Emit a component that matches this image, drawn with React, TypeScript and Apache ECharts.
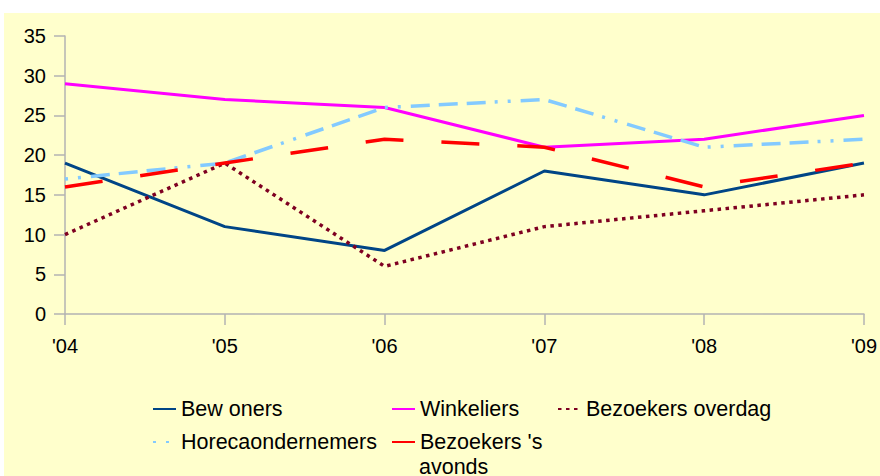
import React, { useEffect, useRef } from "react";
import * as echarts from "echarts";

const categories = ["'04", "'05", "'06", "'07", "'08", "'09"];
const bewoners = [19, 11, 8, 18, 15, 19];
const winkeliers = [29, 27, 26, 21, 22, 25];
const bezoekersOverdag = [10, 19, 6, 11, 13, 15];
const horeca = [17, 19, 26, 27, 21, 22];
const bezoekersAvonds = [16, 19, 22, 21, 16, 19];
const yTicks = { min: 0, max: 35, interval: 5 };

const FONT = "Liberation Sans, Arial, sans-serif";
const AXIS_COLOR = "#b3b3b3";
const LEGEND_FONT = 21.5;

export default function App() {
  const ref = useRef<HTMLDivElement>(null);

  useEffect(() => {
    if (!ref.current) return;
    const chart = echarts.init(ref.current, null, { renderer: "svg" });
    const legendBase = {
      orient: "horizontal",
      padding: 0,
      itemWidth: 23,
      itemHeight: 20,
      itemStyle: { opacity: 0 },
      textStyle: { fontSize: LEGEND_FONT, fontFamily: FONT, color: "#000", lineHeight: 20 },
      selectedMode: false,
    };
    const option = {
      animation: false,
      backgroundColor: "#ffffcc",
      textStyle: { fontFamily: FONT },
      grid: { left: 61, right: 13, top: 23, bottom: 162, containLabel: false },
      xAxis: {
        type: "category",
        data: categories,
        boundaryGap: false,
        axisLine: { lineStyle: { color: AXIS_COLOR, width: 1.5 } },
        axisTick: { show: true, length: 11, lineStyle: { color: AXIS_COLOR, width: 1.5 } },
        axisLabel: { fontSize: 20, color: "#000", margin: 22, fontFamily: FONT },
        splitLine: { show: false },
      },
      yAxis: {
        type: "value",
        min: yTicks.min,
        max: yTicks.max,
        interval: yTicks.interval,
        axisLine: { show: true, lineStyle: { color: AXIS_COLOR, width: 1.5 } },
        axisTick: { show: true, length: 11, lineStyle: { color: AXIS_COLOR, width: 1.5 } },
        axisLabel: { fontSize: 20, color: "#000", margin: 19, fontFamily: FONT },
        splitLine: { show: false },
      },
      legend: [
        { ...legendBase, left: 148, top: 385, data: ["Bewoners"], formatter: () => "Bew oners" },
        { ...legendBase, left: 387, top: 385, data: ["Winkeliers"] },
        { ...legendBase, left: 553, top: 385, data: ["Bezoekers overdag"] },
        { ...legendBase, left: 148, top: 418, data: ["Horecaondernemers"] },
        { ...legendBase, left: 387, top: 418, data: ["Bezoekers 's avonds"], formatter: () => "Bezoekers 's" },
      ],
      graphic: [
        {
          type: "text",
          left: 415,
          top: 443,
          style: { text: "avonds", fontSize: LEGEND_FONT, fontFamily: FONT, fill: "#000" },
        },
      ],
      series: [
        {
          name: "Bewoners",
          type: "line",
          data: bewoners,
          symbol: "none",
          color: "#004586",
          lineStyle: { color: "#004586", width: 3 },
        },
        {
          name: "Winkeliers",
          type: "line",
          data: winkeliers,
          symbol: "none",
          color: "#ff00ff",
          lineStyle: { color: "#ff00ff", width: 3 },
        },
        {
          name: "Bezoekers overdag",
          type: "line",
          data: bezoekersOverdag,
          symbol: "none",
          color: "#7e0021",
          lineStyle: { color: "#7e0021", width: 3.5, type: [3.5, 4.5] },
        },
        {
          name: "Horecaondernemers",
          type: "line",
          data: horeca,
          symbol: "none",
          color: "#83caff",
          lineStyle: { color: "#83caff", width: 3.5, type: [3, 10, 3, 10, 19, 9, 19, 9, 19, 9] },
        },
        {
          name: "Bezoekers 's avonds",
          type: "line",
          data: bezoekersAvonds,
          symbol: "none",
          color: "#ff0000",
          lineStyle: { color: "#ff0000", width: 3.5, type: [38, 38] },
        },
      ],
    };
    chart.setOption(option as any);
    return () => chart.dispose();
  }, []);

  return (
    <div style={{ position: "fixed", left: 0, top: 0, width: 880, height: 476, background: "#ffffff", overflow: "hidden" }}>
      <div ref={ref} style={{ position: "absolute", left: 4, top: 13, width: 876, height: 463 }} />
    </div>
  );
}
